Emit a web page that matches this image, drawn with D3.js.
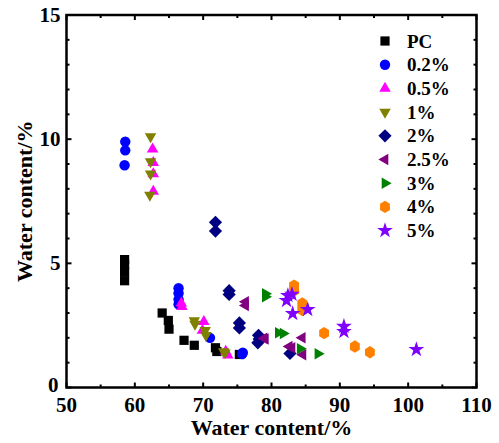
<!DOCTYPE html>
<html>
<head>
<meta charset="utf-8">
<script src="https://cdn.jsdelivr.net/npm/d3@7"></script>
<style>
  html, body { margin: 0; padding: 0; background: #fff; }
  svg { display: block; }
</style>
</head>
<body>
<svg id="chart" width="499" height="443"></svg>
<script>
// Water content (%) vs water content (%) for each admixture dosage
const seriesNames = ["PC", "0.2%", "0.5%", "1%", "2%", "2.5%", "3%", "4%", "5%"];
const seriesColors = ["#000000", "#0000ff", "#ff00ff", "#808000", "#000080", "#800080", "#008000", "#ff8000", "#8000ff"];
const seriesShapes = ["square", "circle", "triangleUp", "triangleDown", "diamond", "triangleLeft", "triangleRight", "hexagon", "star"];

const pc = [[58.5,4.3],[58.5,4.65],[58.5,4.95],[58.5,5.15],[64.0,3.0],[64.9,2.7],[65.0,2.35],[67.2,1.9],[68.7,1.7],[71.8,1.6],[72.0,1.45],[75.3,1.33]];
const d02 = [[58.6,9.9],[58.6,9.55],[58.5,8.95],[66.4,4.0],[66.4,3.8],[66.4,3.55],[66.4,3.35],[71.0,2.0],[75.8,1.4],[75.7,1.35]];
const d05 = [[62.6,9.6],[62.7,9.05],[62.7,8.6],[62.7,7.9],[66.8,3.4],[66.9,3.25],[70.1,2.65],[69.9,2.3],[73.3,1.45],[73.6,1.3]];
const d1 = [[62.3,10.1],[62.3,9.1],[62.3,8.6],[62.2,7.75],[68.7,2.7],[68.8,2.55],[70.3,2.3],[70.4,2.1],[73.0,1.45],[73.2,1.4]];
const d2 = [[71.8,6.65],[71.8,6.3],[73.8,3.9],[73.8,3.75],[75.3,2.6],[75.3,2.4],[78.1,2.1],[78.0,1.8],[78.2,1.95],[82.7,1.37]];
const d25 = [[76.2,3.45],[76.2,3.3],[78.9,1.98],[79.1,1.95],[82.6,1.65],[83.0,1.6],[84.5,2.0],[84.6,1.32]];
const d3s = [[79.1,3.78],[79.1,3.65],[81.0,2.2],[81.7,2.17],[84.2,1.56],[86.8,1.36]];
const d4 = [[83.3,4.1],[83.3,3.9],[84.5,3.38],[84.5,3.12],[87.7,2.19],[92.2,1.65],[94.4,1.42]];
const d5 = [[82.4,3.7],[82.2,3.5],[83.0,3.75],[83.1,2.98],[85.3,3.14],[90.6,2.46],[90.6,2.25],[101.2,1.53]];
const seriesData = [pc, d02, d05, d1, d2, d25, d3s, d4, d5];

const xTicks = [50, 60, 70, 80, 90, 100, 110];
const yTicks = [0, 5, 10, 15];
const xLabel = "Water content/%";
const yLabel = "Water content/%";

const svg = d3.select("#chart");
const plot = { left: 66.5, right: 476.5, top: 15, bottom: 387.5 };
const x = d3.scaleLinear().domain([50, 110]).range([plot.left, plot.right]);
const y = d3.scaleLinear().domain([0, 15]).range([plot.bottom, plot.top]);

const font = "'Times New Roman', 'Liberation Serif', Tinos, serif";

// Marker path builders, centred on the origin
function markerPath(shape) {
  switch (shape) {
    case "square": return d3.symbol(d3.symbolSquare, 85)();
    case "circle": return d3.symbol(d3.symbolCircle, 85)();
    case "diamond": {
      const h = 6.6;
      return `M0,${-h}L${h},0L0,${h}L${-h},0Z`;
    }
    case "triangleUp": case "triangleDown": case "triangleLeft": case "triangleRight": {
      const s = 11.5, hgt = s * Math.sqrt(3) / 2;
      const pts = [[0, -hgt * 2 / 3], [s / 2, hgt / 3], [-s / 2, hgt / 3]];
      const ang = { triangleUp: 0, triangleDown: Math.PI, triangleLeft: -Math.PI / 2, triangleRight: Math.PI / 2 }[shape];
      const rot = pts.map(([px, py]) => [px * Math.cos(ang) - py * Math.sin(ang), px * Math.sin(ang) + py * Math.cos(ang)]);
      return "M" + rot.map(p => p.join(",")).join("L") + "Z";
    }
    case "hexagon": {
      const rr = 6.2;
      const pts = d3.range(6).map(i => {
        const a = -Math.PI / 2 + i * Math.PI / 3;
        return [rr * Math.cos(a) * 0.92, rr * Math.sin(a)];
      });
      return "M" + pts.map(p => p.join(",")).join("L") + "Z";
    }
    case "star": return d3.symbol(d3.symbolStar, 78)();
  }
  return d3.symbol(d3.symbolCircle, 64)();
}

// Data points
seriesData.forEach((pts, i) => {
  svg.append("g").selectAll("path").data(pts).join("path")
    .attr("d", markerPath(seriesShapes[i]))
    .attr("transform", d => `translate(${x(d[0])},${y(d[1])})`)
    .attr("fill", seriesColors[i]);
});

// Frame and ticks (inward, mirrored on all four sides)
const axisColor = "#000";
const lw = 2.5;
const majorLen = 5, minorLen = 3;

function inwardTicks(g, scale, values, len, orient) {
  values.forEach(v => {
    const p = scale(v);
    if (orient === "bottom") g.append("line").attr("x1", p).attr("x2", p).attr("y1", plot.bottom).attr("y2", plot.bottom - len);
    if (orient === "top") g.append("line").attr("x1", p).attr("x2", p).attr("y1", plot.top).attr("y2", plot.top + len);
    if (orient === "left") g.append("line").attr("y1", p).attr("y2", p).attr("x1", plot.left).attr("x2", plot.left + len);
    if (orient === "right") g.append("line").attr("y1", p).attr("y2", p).attr("x1", plot.right).attr("x2", plot.right - len);
  });
}

const tg = svg.append("g").attr("stroke", axisColor).attr("stroke-width", 2);
const xMinor = d3.range(55, 110, 10);
const yMinor = d3.range(1, 15).filter(v => v % 5 !== 0);
["bottom", "top"].forEach(o => {
  inwardTicks(tg, x, xTicks, majorLen, o);
  inwardTicks(tg, x, xMinor, minorLen, o);
});
["left", "right"].forEach(o => {
  inwardTicks(tg, y, yTicks, majorLen, o);
  inwardTicks(tg, y, yMinor, minorLen, o);
});

svg.append("rect")
  .attr("x", plot.left).attr("y", plot.top)
  .attr("width", plot.right - plot.left).attr("height", plot.bottom - plot.top)
  .attr("fill", "none").attr("stroke", axisColor).attr("stroke-width", lw);

// Tick labels
svg.append("g").selectAll("text").data(xTicks).join("text")
  .attr("x", d => x(d)).attr("y", plot.bottom + 24.5)
  .attr("text-anchor", "middle")
  .attr("font-family", font).attr("font-weight", "bold").attr("font-size", 21)
  .text(d => d);

svg.append("g").selectAll("text").data(yTicks).join("text")
  .attr("x", d => plot.left - (d === 0 ? 8 : 6)).attr("y", d => y(d) + (d === 0 ? 4.5 : 7))
  .attr("text-anchor", "end")
  .attr("font-family", font).attr("font-weight", "bold").attr("font-size", 21)
  .text(d => d);

// Axis titles
svg.append("text")
  .attr("x", (plot.left + plot.right) / 2).attr("y", 435)
  .attr("text-anchor", "middle")
  .attr("font-family", font).attr("font-weight", "bold").attr("font-size", 22)
  .text(xLabel);

svg.append("text")
  .attr("transform", `translate(32,${(plot.top + plot.bottom) / 2}) rotate(-90)`)
  .attr("text-anchor", "middle")
  .attr("font-family", font).attr("font-weight", "bold").attr("font-size", 22)
  .text(yLabel);

// Legend
const legend = svg.append("g");
seriesNames.forEach((name, i) => {
  const ly = 41 + i * 23.7;
  legend.append("path")
    .attr("d", markerPath(seriesShapes[i]))
    .attr("transform", `translate(385,${ly})`)
    .attr("fill", seriesColors[i]);
  legend.append("text")
    .attr("x", 407).attr("y", ly + 6.5)
    .attr("font-family", font).attr("font-weight", "bold").attr("font-size", 19)
    .text(name);
});
</script>
</body>
</html>
